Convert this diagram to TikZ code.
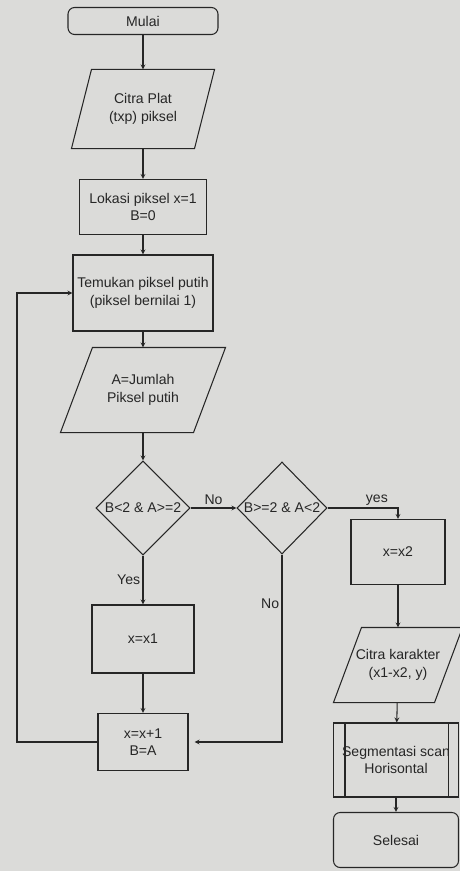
\documentclass[tikz,border=0pt]{standalone}
\usepackage{fontspec}
\setmainfont{Liberation Sans}
\usetikzlibrary{shapes.geometric,calc}
\definecolor{paper}{RGB}{219,219,217}
\definecolor{ink}{RGB}{38,38,38}
\newcommand{\Px}{0.03cm}
\tikzset{Box/.style={
    rectangle,
    inner sep=1pt,
    draw=ink,
    text=ink,
    align=center,
    font=\fontsize{12}{15}\selectfont,
    }
}

\begin{document}
\begin{tikzpicture}[x=\Px, y=-\Px, line width=0.9pt, draw=ink,
    Term/.style={Box, rounded corners=0.2cm},
    Data/.style={Box, draw=none,
 append after command={% slanted outline
        \pgfextra{%
            \begin{pgfinterruptpath}
            \draw[ink, line width=0.9pt]
                ([xshift=#1]\tikzlastnode.north west) -- ([xshift=#1]\tikzlastnode.north east)
                -- ([xshift=-#1]\tikzlastnode.south east) -- ([xshift=-#1]\tikzlastnode.south west) -- cycle;
            \end{pgfinterruptpath}
        }
    }},
    Data/.default=0.4cm,
    Dec/.style={Box, diamond, inner sep=0pt},
    Arr/.style={-stealth, draw=ink},
    Lbl/.style={text=ink, font=\fontsize{12}{15}\selectfont, inner sep=2pt},
]
\fill[paper] (0,0) rectangle (460,871);
\useasboundingbox (0,0) rectangle (460,871);
% left column
\node [Term, minimum width=150*\Px, minimum height=27*\Px] (mulai) at (143,21) {Mulai};
\node [Data=0.3cm, minimum width=122*\Px, minimum height=78*\Px] (plat) at (143,109) {Citra Plat\\(txp) piksel};
\node [Box, minimum width=127*\Px, minimum height=55*\Px] (lokasi) at (143,207) {Lokasi piksel x=1\\B=0};
\node [Box, minimum width=140*\Px, minimum height=76*\Px] (temukan) at (143,293) {Temukan piksel putih\\(piksel bernilai 1)};
\node [Data=0.48cm, minimum width=132*\Px, minimum height=84*\Px] (jumlah) at (143,390) {A=Jumlah\\Piksel putih};
\node [Dec, minimum width=94*\Px, minimum height=94*\Px] (cekA) at (143,508) {B<2 \& A>=2};
\node [Box, minimum width=102*\Px, minimum height=68*\Px] (xsatu) at (143,639) {x=x1};
\node [Box, minimum width=90*\Px, minimum height=57*\Px] (tambah) at (143,742) {x=x+1\\B=A};
% right column
\node [Dec, minimum width=90*\Px, minimum height=92*\Px] (cekB) at (282,508) {B>=2 \& A<2};
\node [Box, minimum width=94*\Px, minimum height=65*\Px] (xdua) at (398,552) {x=x2};
\node [Data=0.42cm, minimum width=100*\Px, minimum height=74*\Px] (karakter) at (398,665) {Citra karakter\\(x1-x2, y)};
\node [Box, minimum width=125*\Px, minimum height=74*\Px] (segmen) at (396,760) {Segmentasi scan\\Horisontal};
\draw ([xshift=0.36cm]segmen.north west) -- ([xshift=0.36cm]segmen.south west);
\draw ([xshift=-0.33cm]segmen.north east) -- ([xshift=-0.33cm]segmen.south east);
\node [Term, minimum width=125*\Px, minimum height=55*\Px] (selesai) at (396,840) {Selesai};
\coordinate (balik) at (17,0);

\draw [Arr] (mulai) -- (plat);
\draw [Arr] (plat) -- (lokasi);
\draw [Arr] (lokasi) -- (temukan);
\draw [Arr] (temukan) -- (jumlah);
\draw [Arr] (jumlah) -- (cekA);
\draw [Arr] (cekA) -- node[Lbl, above] (tidakA) {No} (cekB);
\draw [Arr] (cekA) -- node[Lbl, left, pos=0.5] (yaA) {Yes} (xsatu);
\draw [Arr] (xsatu) -- (tambah);
\draw [Arr] (cekB.east) -| node[Lbl, above, pos=0.35] (yaB) {yes} (xdua.north);
\draw [Arr, shorten >=0.18cm] (cekB.south) |- node[Lbl, left, pos=0.13] (tidakB) {No} (tambah.east);
\draw [Arr] (tambah.west) -- (tambah.west -| balik) |- (temukan.west);
\draw [Arr] (xdua) -- (karakter);
\draw [Arr] (karakter) -- (segmen);
\draw [Arr] (segmen) -- (selesai);
\end{tikzpicture}
\end{document}
